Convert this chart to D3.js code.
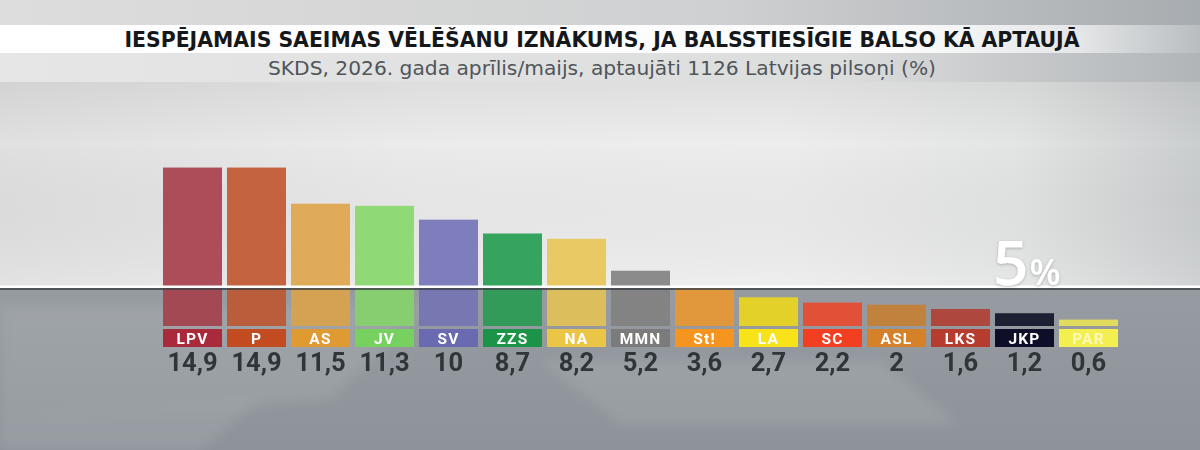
<!DOCTYPE html>
<html>
<head>
<meta charset="utf-8">
<script src="https://cdn.jsdelivr.net/npm/d3@7"></script>
<style>
  html, body { margin: 0; padding: 0; background: #d9dadb; }
  svg { display: block; }
</style>
</head>
<body>
<div id="chart"></div>
<script>
// Data
const parties = ['LPV', 'P', 'AS', 'JV', 'SV', 'ZZS', 'NA', 'MMN', 'St!', 'LA', 'SC', 'ASL', 'LKS', 'JKP', 'PAR']
const values = [14.9, 14.9, 11.5, 11.3, 10, 8.7, 8.2, 5.2, 3.6, 2.7, 2.2, 2, 1.6, 1.2, 0.6]
const barColors = ['#ac4d59', '#c3633f', '#dfab58', '#8fda77', '#7e7ebc', '#35a45f', '#e9c963', '#8b8b8b',
  '#eea040', '#f0dd2c', '#f0553b', '#cc8a42', '#b84b42', '#1f2136', '#eee862']
const boxColors = ['#a82a3b', '#c24b22', '#e09a32', '#77d160', '#6a6ab0', '#1b9447', '#eac546', '#7b7b7b',
  '#f5941e', '#f8e21a', '#f23e21', '#d48129', '#b63c30', '#0e0e28', '#f3ef50']
const labelColors = ['#fff', '#fff', '#fff', '#fff', '#fff', '#fff', '#fff', '#fff',
  '#fff', '#fff', '#fff', '#fff', '#fff', '#fff', '#fdf9b8']

const title = 'IESPĒJAMAIS SAEIMAS VĒLĒŠANU IZNĀKUMS, JA BALSSTIESĪGIE BALSO KĀ APTAUJĀ'
const subtitle = 'SKDS, 2026. gada aprīlis/maijs, aptaujāti 1126 Latvijas pilsoņi (%)'
const thresholdLabel = '5'

const data = parties.map((p, i) => ({ party: p, value: values[i], bar: barColors[i], box: boxColors[i], label: labelColors[i] }))

const width = 1200
const height = 450
const horizon = 288
const baseline = 326

const svg = d3.select('#chart')
  .append('svg')
  .attr('width', width)
  .attr('height', height)

const defs = svg.append('defs')

function linGrad(id, stops, x2 = '100%', y2 = '0%') {
  const g = defs.append('linearGradient').attr('id', id)
    .attr('x1', '0%').attr('y1', '0%').attr('x2', x2).attr('y2', y2)
  stops.forEach(s => g.append('stop').attr('offset', s[0]).attr('stop-color', s[1]))
}

linGrad('topBand', [['0%', '#dddddd'], ['60%', '#cfd0d1'], ['100%', '#a7acb0']])
linGrad('titleBand', [['0%', '#ffffff'], ['75%', '#fbfbfb'], ['90%', '#e4e6e7'], ['100%', '#b9bdc0']])
linGrad('subBand', [['0%', '#e6e6e6'], ['70%', '#dcdddd'], ['100%', '#b1b5b8']])
linGrad('upper', [['0%', '#e0e0e0'], ['35%', '#ebebeb'], ['65%', '#ededed'], ['85%', '#e3e4e4'], ['100%', '#cbcecf']])
linGrad('lower', [['0%', '#a6abaf'], ['100%', '#8d9399']], '0%', '100%')
linGrad('upperV', [['0%', 'rgba(0,0,0,0.06)'], ['30%', 'rgba(0,0,0,0)'], ['100%', 'rgba(255,255,255,0.1)']], '0%', '100%')

const blur = defs.append('filter').attr('id', 'soft').attr('x', '-20%').attr('y', '-20%').attr('width', '140%').attr('height', '140%')
blur.append('feGaussianBlur').attr('stdDeviation', 6)

const shadow = defs.append('filter').attr('id', 'shadow')
shadow.append('feDropShadow').attr('dx', 0).attr('dy', 1).attr('stdDeviation', 1.5).attr('flood-color', '#000').attr('flood-opacity', 0.25)

// Background
svg.append('rect').attr('width', width).attr('height', height).attr('fill', 'url(#lower)')

// light floor streaks
const streaks = [
  [[0, 305], [430, 305], [330, 400], [0, 420]],
  [[540, 360], [880, 360], [960, 425], [620, 425]],
  [[0, 420], [260, 400], [200, 450], [0, 450]]
]
svg.append('g').attr('filter', 'url(#soft)').selectAll('path').data(streaks).join('path')
  .attr('d', d => d3.line()(d) + 'Z')
  .attr('fill', '#ffffff')
  .attr('opacity', 0.09)

svg.append('rect').attr('width', width).attr('height', horizon).attr('fill', 'url(#upper)')
svg.append('rect').attr('y', 82).attr('width', width).attr('height', horizon - 82).attr('fill', 'url(#upperV)')
svg.append('rect').attr('width', width).attr('height', 25).attr('fill', 'url(#topBand)')
svg.append('rect').attr('y', 25).attr('width', width).attr('height', 28).attr('fill', 'url(#titleBand)')
svg.append('rect').attr('y', 53).attr('width', width).attr('height', 29).attr('fill', 'url(#subBand)')

// Title
svg.append('text')
  .attr('x', 602).attr('y', 47)
  .attr('text-anchor', 'middle')
  .attr('textLength', 955).attr('lengthAdjust', 'spacingAndGlyphs')
  .attr('style', "font-family: 'DejaVu Sans Condensed', 'Liberation Sans Narrow', 'DejaVu Sans', sans-serif; font-weight: bold; font-size: 21px; fill: #15181b")
  .text(title)

svg.append('text')
  .attr('x', 602).attr('y', 75)
  .attr('text-anchor', 'middle')
  .attr('textLength', 668).attr('lengthAdjust', 'spacingAndGlyphs')
  .attr('style', "font-family: 'DejaVu Sans Condensed', 'Liberation Sans Narrow', 'DejaVu Sans', sans-serif; font-size: 19px; fill: #50555a")
  .text(subtitle)

// Scales
const x = d3.scaleBand()
  .domain(parties)
  .range([160.5, 1120.5])
  .paddingInner(0.078)
  .paddingOuter(0.039)

const y = d3.scaleLinear()
  .domain([0, 15])
  .range([baseline, baseline - 159.5])

// Bars
const bars = svg.append('g')
bars.selectAll('rect.bar').data(data).join('rect')
  .attr('class', 'bar')
  .attr('x', d => x(d.party))
  .attr('y', d => y(d.value))
  .attr('width', x.bandwidth())
  .attr('height', d => y(0) - y(d.value))
  .attr('fill', d => d.bar)

// shade the part of each bar below the horizon
bars.selectAll('rect.shade').data(data).join('rect')
  .attr('class', 'shade')
  .attr('x', d => x(d.party))
  .attr('y', d => Math.max(horizon, y(d.value)))
  .attr('width', x.bandwidth())
  .attr('height', d => y(0) - Math.max(horizon, y(d.value)))
  .attr('fill', '#000')
  .attr('opacity', 0.05)

// Horizon line
svg.append('rect').attr('x', 0).attr('y', horizon - 2.5).attr('width', width).attr('height', 2.5).attr('fill', '#ffffff')
svg.append('rect').attr('x', 0).attr('y', horizon).attr('width', width).attr('height', 2).attr('fill', '#3d4247').attr('opacity', 0.8)

// 5% threshold label
const th = svg.append('text')
  .attr('x', 993).attr('y', horizon - 3)
  .attr('filter', 'url(#shadow)')
  .attr('style', "font-family: 'Open Sans', sans-serif; font-weight: 600; fill: #ffffff")
th.append('tspan').attr('style', 'font-size: 62px').text(thresholdLabel)
th.append('tspan').attr('style', 'font-size: 36px').attr('dx', 1).text('%')

// Party boxes
svg.append('g').selectAll('rect').data(data).join('rect')
  .attr('x', d => x(d.party))
  .attr('y', 329)
  .attr('width', x.bandwidth())
  .attr('height', 18)
  .attr('fill', d => d.box)

svg.append('g').selectAll('text').data(data).join('text')
  .attr('x', d => x(d.party) + x.bandwidth() / 2)
  .attr('y', 343.5)
  .attr('text-anchor', 'middle')
  .attr('style', "font-family: Roboto, sans-serif; font-weight: bold; font-size: 15.5px; letter-spacing: 1.2px")
  .attr('fill', d => d.label)
  .text(d => d.party)

// Values
const fmt = v => String(v).replace('.', ',')
svg.append('g').selectAll('text').data(data).join('text')
  .attr('x', d => x(d.party) + x.bandwidth() / 2)
  .attr('y', 371)
  .attr('text-anchor', 'middle')
  .attr('style', "font-family: Roboto, sans-serif; font-weight: bold; font-size: 25.5px; fill: #30353a")
  .text(d => fmt(d.value))
</script>
</body>
</html>
